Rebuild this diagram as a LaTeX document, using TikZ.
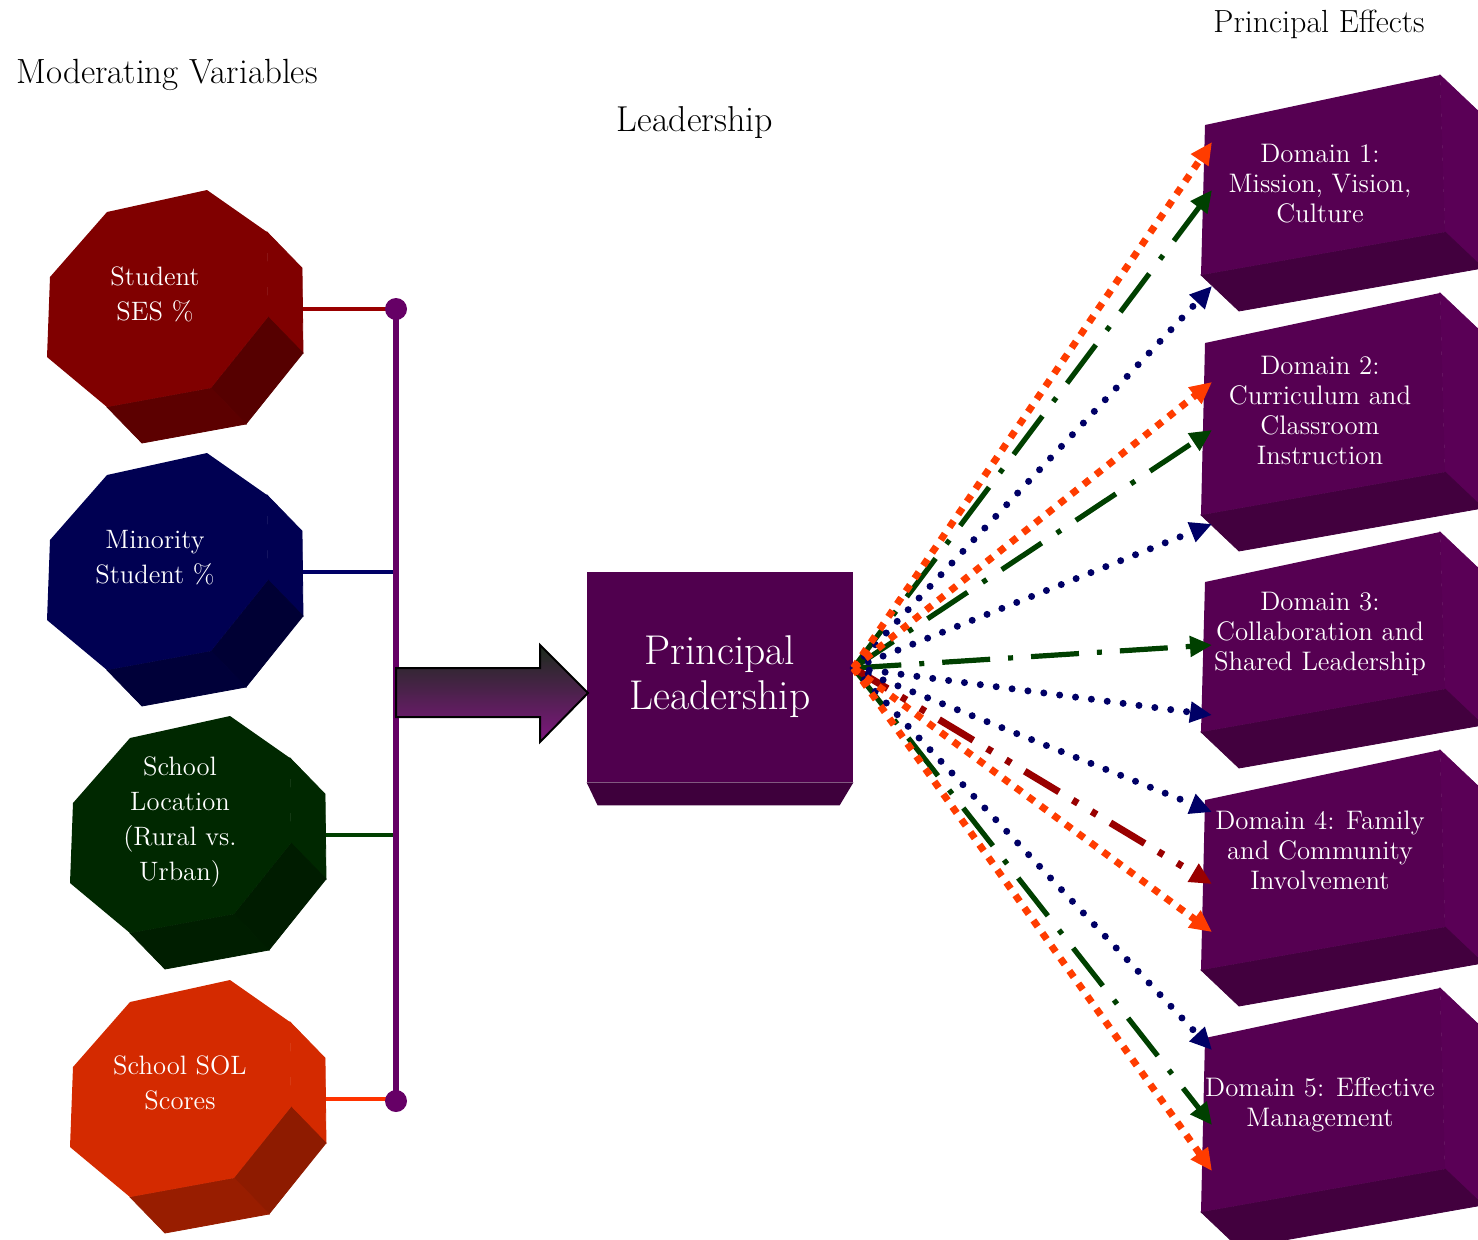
\documentclass[tikz,border=0pt]{standalone}
\usepackage{tikz}
\usetikzlibrary{arrows.meta}

\definecolor{sesfront}{RGB}{128,0,0}
\definecolor{sesdark}{RGB}{86,0,0}
\definecolor{sesline}{RGB}{153,0,0}
\definecolor{minfront}{RGB}{0,0,82}
\definecolor{mindark}{RGB}{0,0,52}
\definecolor{minline}{RGB}{0,0,102}
\definecolor{locfront}{RGB}{0,40,0}
\definecolor{locdark}{RGB}{0,28,0}
\definecolor{locline}{RGB}{0,64,0}
\definecolor{solfront}{RGB}{212,42,0}
\definecolor{soldark}{RGB}{142,27,0}
\definecolor{solline}{RGB}{255,51,0}
\definecolor{barcol}{RGB}{102,0,102}
\definecolor{plfront}{RGB}{80,0,78}
\definecolor{plbottom}{RGB}{62,0,60}
\definecolor{domfront}{RGB}{86,0,82}
\definecolor{domside}{RGB}{90,0,86}
\definecolor{dombottom}{RGB}{66,0,62}
\definecolor{effred}{RGB}{255,60,0}
\definecolor{effgreen}{RGB}{0,64,0}
\definecolor{effnavy}{RGB}{0,0,102}
\definecolor{effmaroon}{RGB}{153,0,0}
\definecolor{arrtop}{RGB}{28,44,28}
\definecolor{arrbot}{RGB}{128,22,128}

% octagonal prism: (centre) front colour, dark colour, port name
\def\octprism(#1,#2)#3#4#5{%
  \begin{scope}[shift={(#1,#2)}, line width=0.4pt]
    \filldraw[#3] (110,-68) -- (145,-32) -- (146,53) -- (111,17) -- cycle;
    \filldraw[#4] (111,17) -- (146,53) -- (89,124) -- (54,88) -- cycle;
    \filldraw[#4!85!#3] (54,88) -- (89,124) -- (-15,143) -- (-50,107) -- cycle;
    \fill[#3] (-107,-23) -- (-50,-88) -- (50,-110) -- (110,-68) -- (111,17)
      -- (54,88) -- (-50,107) -- (-110,57) -- cycle;
    \coordinate (#5) at (146,9);
  \end{scope}}

% domain box: (top y, bottom y) of the front face
\def\domainbox(#1,#2){%
  \filldraw[domside, line width=0.4pt] (1440,#1-50) -- (1478,#1-14) -- (1483,#2-7) -- (1445,#2-43) -- cycle;
  \filldraw[dombottom, line width=0.4pt] (1201,#2) -- (1445,#2-43) -- (1483,#2-7) -- (1239,#2+36) -- cycle;
  \fill[domfront] (1205,#1) -- (1440,#1-50) -- (1445,#2-43) -- (1201,#2) -- cycle;}

\begin{document}
\begin{tikzpicture}[x=0.5pt, y=-0.5pt,
    heading/.style={font=\fontsize{17.5}{21}\selectfont},
    modvar/.style={text=white, align=center, font=\fontsize{13.3}{17.5}\selectfont},
    domtext/.style={text=white, align=center, font=\fontsize{13.4}{15}\selectfont},
    plbox/.style={fill=plfront, text=white, align=center, inner sep=0pt,
      minimum width=133pt, minimum height=105pt, font=\fontsize{20.8}{22.5}\selectfont},
    modline/.style={line width=2pt},
    effect/.style={-{Triangle[length=11pt,width=10pt]}},
    sqdots/.style={effect, effred, line width=3.5pt, dash pattern=on 3.75pt off 4pt},
    rounddots/.style={effect, effnavy, line width=3.5pt, line cap=round, dash pattern=on 0pt off 8pt},
    dashdot/.style={effect, effgreen, line width=2.6pt, dash pattern=on 24pt off 9pt on 2.5pt off 9pt},
    dashdotdot/.style={effect, effmaroon, line width=3.5pt, dash pattern=on 20pt off 8pt on 3pt off 8pt on 3pt off 8pt}]
  \useasboundingbox (0,0) rectangle (1478,1239);

  %%%%% headings %%%%%
  \node[heading] (modhead) at (167,75) {Moderating Variables};
  \node[heading, font=\fontsize{18}{21}\selectfont] (leadhead) at (695,123) {Leadership};
  \node[heading, font=\fontsize{16}{20}\selectfont] (effhead) at (1319,24) {Principal Effects};

  %%%%% moderating variables %%%%%
  \octprism(157,300){sesfront}{sesdark}{ses-p}
  \octprism(157,563){minfront}{mindark}{min-p}
  \octprism(180,826){locfront}{locdark}{loc-p}
  \octprism(180,1090){solfront}{soldark}{sol-p}

  \node[modvar] (ses) at (155,294) {Student\\SES \%};
  \node[modvar] (min) at (155,558) {Minority\\Student \%};
  \node[modvar] (loc) at (180,822) {School\\Location\\(Rural vs.\\Urban)};
  \node[modvar] (sol) at (180,1083) {School SOL\\Scores};

  \coordinate (bartop) at (396,309);
  \coordinate (barbot) at (396,1101);

  \draw[modline, sesline] (ses-p) -- (ses-p -| bartop);
  \draw[modline, minline] (min-p) -- (min-p -| bartop);
  \draw[modline, locline] (loc-p) -- (loc-p -| bartop);
  \draw[modline, solline] (sol-p) -- (sol-p -| bartop);
  \draw[barcol, line width=3pt] (bartop) -- (barbot);
  \fill[barcol] (bartop) circle[radius=5.5pt];
  \fill[barcol] (barbot) circle[radius=5.5pt];

  %%%%% principal leadership %%%%%
  \node[plbox] (pl) at (720,677) {Principal\\Leadership};
  \fill[plbottom] (pl.south west) -- ++(11,23) -- ++(242,0) -- (pl.south east) -- cycle;

  \draw[line width=1pt, top color=arrtop, bottom color=arrbot]
    (396,668) -- (540,668) -- (540,645) -- (588,693) -- (540,742) -- (540,717) -- (396,717) -- cycle;

  %%%%% domains %%%%%
  \domainbox(125,275)
  \domainbox(343,515)
  \domainbox(582,732)
  \domainbox(800,970)
  \domainbox(1038,1212)

  \node[domtext] (d1) at (1320,184) {Domain 1:\\Mission, Vision,\\Culture};
  \node[domtext] (d2) at (1320,410) {Domain 2:\\Curriculum and\\Classroom\\Instruction};
  \node[domtext] (d3) at (1320,634) {Domain 3:\\Collaboration and\\Shared Leadership};
  \node[domtext] (d4) at (1320,850) {Domain 4: Family\\and Community\\Involvement};
  \node[domtext] (d5) at (1320,1105) {Domain 5: Effective\\Management};

  %%%%% effects %%%%%
  \coordinate (hub) at ([yshift=4.5pt]pl.east);
  \coordinate (d1-or) at (1212,142);
  \coordinate (d1-gr) at (1212,190);
  \coordinate (d1-nv) at (1212,286);
  \coordinate (d2-or) at (1212,382);
  \coordinate (d2-gr) at (1212,430);
  \coordinate (d2-nv) at (1212,524);
  \coordinate (d3-gr) at (1212,645);
  \coordinate (d3-nv) at (1212,715);
  \coordinate (d4-nv) at (1212,812);
  \coordinate (d4-rd) at (1212,884);
  \coordinate (d4-or) at (1212,932);
  \coordinate (d5-nv) at (1212,1050);
  \coordinate (d5-gr) at (1212,1125);
  \coordinate (d5-or) at (1212,1171);

  \draw[dashdot] (hub) -- (d1-gr);
  \draw[dashdot] (hub) -- (d2-gr);
  \draw[dashdot] (hub) -- (d3-gr);
  \draw[dashdot] (hub) -- (d5-gr);
  \draw[dashdotdot] (hub) -- (d4-rd);
  \draw[rounddots] (hub) -- (d1-nv);
  \draw[rounddots] (hub) -- (d2-nv);
  \draw[rounddots] (hub) -- (d3-nv);
  \draw[rounddots] (hub) -- (d4-nv);
  \draw[rounddots] (hub) -- (d5-nv);
  \draw[sqdots] (hub) -- (d1-or);
  \draw[sqdots] (hub) -- (d2-or);
  \draw[sqdots] (hub) -- (d4-or);
  \draw[sqdots] (hub) -- (d5-or);
\end{tikzpicture}
\end{document}
